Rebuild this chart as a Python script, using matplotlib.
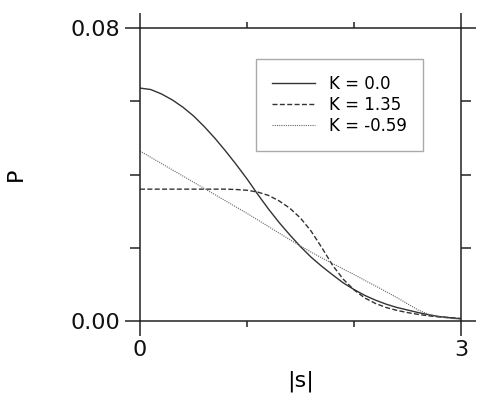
import matplotlib
matplotlib.use("Agg")
import matplotlib.pyplot as plt
from matplotlib.ticker import FixedLocator, NullFormatter

s_vals = [0.0, 0.1, 0.2, 0.3, 0.4, 0.5, 0.6, 0.7, 0.8, 0.9, 1.0,
          1.1, 1.2, 1.3, 1.4, 1.5, 1.6, 1.7, 1.8, 1.9, 2.0,
          2.1, 2.2, 2.3, 2.4, 2.5, 2.6, 2.7, 2.8, 2.9, 3.0]
p_k0 = [0.0636, 0.0632, 0.0620, 0.0604, 0.0584, 0.0560, 0.0531, 0.0499, 0.0464, 0.0427, 0.0388,
        0.0346, 0.0306, 0.0269, 0.0235, 0.0203, 0.0174, 0.0149, 0.0126, 0.0104, 0.0086,
        0.0070, 0.0057, 0.0046, 0.0037, 0.0030, 0.0023, 0.0017, 0.0012, 0.0009, 0.0006]
p_k135 = [0.0360, 0.0360, 0.0360, 0.0360, 0.0360, 0.0360, 0.0360, 0.0360, 0.0360, 0.0359, 0.0357,
          0.0352, 0.0343, 0.0328, 0.0308, 0.0281, 0.0245, 0.0200, 0.0152, 0.0114, 0.0085,
          0.0063, 0.0048, 0.0037, 0.0029, 0.0023, 0.0018, 0.0014, 0.0011, 0.0009, 0.0007]
p_km059 = [0.0464, 0.0447, 0.0430, 0.0413, 0.0396, 0.0379, 0.0362, 0.0345, 0.0328, 0.0311, 0.0294,
           0.0276, 0.0258, 0.0240, 0.0222, 0.0205, 0.0188, 0.0172, 0.0157, 0.0142, 0.0127,
           0.0111, 0.0096, 0.0080, 0.0064, 0.0047, 0.0030, 0.0018, 0.0011, 0.0007, 0.0005]
labels = ["K = 0.0", "K = 1.35", "K = -0.59"]
x_major = [0, 3]
x_minor = [1, 2]
y_major = [0.0, 0.08]
y_minor = [0.02, 0.04, 0.06]

plt.rcParams['font.family'] = ['DejaVu Sans']

fig = plt.figure(figsize=(4.87, 4.01), dpi=100)
ax = fig.add_axes([140/487, 80/401, 321/487, 293/401])

ax.plot(s_vals, p_k0, color='#333333', lw=1.0, ls='-', label=labels[0])
ax.plot(s_vals, p_k135, color='#333333', lw=1.0, ls=(0, (3.6, 1.7)), label=labels[1])
ax.plot(s_vals, p_km059, color='#666666', lw=0.8, ls=(0, (1, 1)), label=labels[2])

ax.set_xlim(0, 3)
ax.set_ylim(0, 0.08)
ax.xaxis.set_major_locator(FixedLocator(x_major))
ax.xaxis.set_minor_locator(FixedLocator(x_minor))
ax.yaxis.set_major_locator(FixedLocator(y_major))
ax.yaxis.set_minor_locator(FixedLocator(y_minor))
ax.set_xticklabels(['0', '3'])
ax.set_yticklabels(['0.00', '0.08'])
ax.xaxis.set_minor_formatter(NullFormatter())
ax.yaxis.set_minor_formatter(NullFormatter())

for sp in ax.spines.values():
    sp.set_linewidth(1.1)
    sp.set_color('#222222')

ax.tick_params(which='major', direction='out', length=10.5, width=1.1, color='#222222',
               top=True, right=True, labelsize=16, pad=4, labelcolor='#111111')
ax.tick_params(axis='x', which='major', pad=3)
ax.tick_params(which='minor', direction='out', width=1.1, color='#222222', top=True, right=True)
ax.tick_params(axis='y', which='minor', length=7)
ax.tick_params(axis='x', which='minor', length=4)

ax.set_xlabel('|s|', fontsize=16, labelpad=8)
ax.set_ylabel('P', fontsize=16, labelpad=32)

leg = ax.legend(loc='upper left', bbox_to_anchor=(0.361, 0.895), fontsize=12,
                frameon=True, fancybox=False, edgecolor='#aaaaaa', framealpha=1,
                handlelength=2.6, handletextpad=0.85, labelspacing=0.2,
                borderpad=0.95, borderaxespad=0)
leg.get_frame().set_linewidth(1.0)

fig.savefig('out.png', dpi=100)
